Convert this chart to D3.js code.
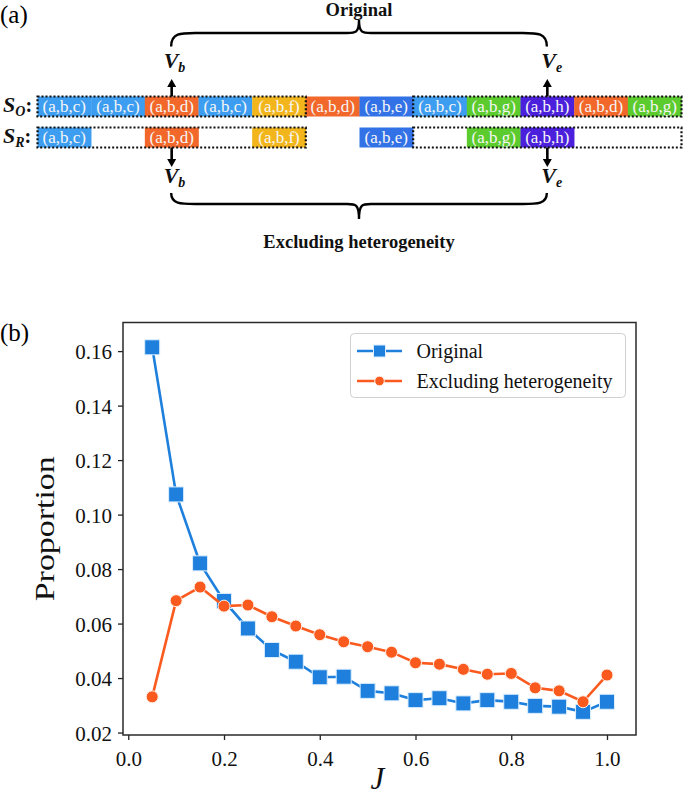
<!DOCTYPE html>
<html><head><meta charset="utf-8">
<script src="https://cdn.jsdelivr.net/npm/d3@7"></script>
<style>body{margin:0;background:#fff;} svg{display:block;} svg text{font-family:'Liberation Serif','Times New Roman',serif !important;}</style>
</head><body>
<script>
// ---------- Panel (a) data ----------
const soCells = ["(a,b,c)","(a,b,c)","(a,b,d)","(a,b,c)","(a,b,f)","(a,b,d)","(a,b,e)","(a,b,c)","(a,b,g)","(a,b,h)","(a,b,d)","(a,b,g)"];
const srKeep = [true,false,true,false,true,false,true,false,true,true,false,false];
const dottedGroups = [[0,4],[7,11]];
const vbIndex = 2, veIndex = 9;
const tripleKeys = ["(a,b,c)","(a,b,d)","(a,b,e)","(a,b,f)","(a,b,g)","(a,b,h)"];
const tripleColors = ["#3d9df0","#f2672a","#3372e6","#f2b61c","#5ccb2e","#4b20dc"];

// ---------- Panel (b) data ----------
const J = [0.05,0.10,0.15,0.20,0.25,0.30,0.35,0.40,0.45,0.50,0.55,0.60,0.65,0.70,0.75,0.80,0.85,0.90,0.95,1.00];
const original = [0.1614,0.1074,0.0821,0.0683,0.0582,0.0503,0.0460,0.0403,0.0405,0.0353,0.0344,0.0319,0.0326,0.0307,0.0319,0.0313,0.0298,0.0295,0.0276,0.0313];
const excluding = [0.0331,0.0684,0.0734,0.0664,0.0668,0.0625,0.0591,0.0559,0.0533,0.0515,0.0495,0.0456,0.0451,0.0432,0.0414,0.0417,0.0364,0.0353,0.0313,0.0411];
const xTicks = [0.0,0.2,0.4,0.6,0.8,1.0];
const yTicks = [0.02,0.04,0.06,0.08,0.10,0.12,0.14,0.16];
const seriesNames = ["Original","Excluding heterogeneity"];
const seriesColors = ["#1e80dc","#fa5a1e"];

const W=685,H=797;
const serif = "'Liberation Serif','Times New Roman',serif";
const svg = d3.select("body").append("svg").attr("width",W).attr("height",H)
  .style("font-family",serif);

// ================= Panel (a) =================
svg.append("text").attr("x",0).attr("y",23).attr("font-size",25).text("(a)");

const colorOf = d3.scaleOrdinal().domain(tripleKeys).range(tripleColors);
const cellX = d3.scaleBand().domain(d3.range(soCells.length)).range([37.5,681.5]);
const bw = cellX.bandwidth();
const rows = [{key:"O", top:96.5, keep: soCells.map(()=>true)}, {key:"R", top:127.5, keep: srKeep}];
const rowH = 20;

const ga = svg.append("g");
rows.forEach(r=>{
  const g = ga.append("g");
  const cells = soCells.map((t,i)=>({t,i})).filter(d=>r.keep[d.i]);
  g.selectAll("rect.cell").data(cells).join("rect")
    .attr("x",d=>cellX(d.i)).attr("y",r.top).attr("width",bw+0.3).attr("height",rowH)
    .attr("fill",d=>colorOf(d.t));
  g.selectAll("text.cell").data(cells).join("text")
    .attr("x",d=>cellX(d.i)+bw/2).attr("y",r.top+rowH/2+5.5)
    .attr("text-anchor","middle").attr("font-size",17).attr("fill","#f6f6f6")
    .text(d=>d.t);
  g.selectAll("rect.dot").data(dottedGroups).join("rect")
    .attr("x",d=>cellX(d[0])).attr("y",r.top)
    .attr("width",d=>cellX(d[1])+bw-cellX(d[0])).attr("height",rowH)
    .attr("fill","none").attr("stroke","#111").attr("stroke-width",2.2)
    .attr("stroke-dasharray","2,2");
  // row label
  const lab = g.append("text").attr("x",3).attr("y",r.top+15)
    .attr("font-weight","bold").attr("fill","#111");
  lab.append("tspan").attr("font-size",22).attr("font-style","italic").text("S");
  lab.append("tspan").attr("font-size",14).attr("font-style","italic").attr("dy",4).text(r.key);
  lab.append("tspan").attr("font-size",20).attr("dy",-4).text(":");
});

// arrows and V labels
const arrowDefs = [
  {i:vbIndex, sub:"b", dir:-1, y0:rows[0].top, tip:79, labY:68, dx:-8},
  {i:veIndex, sub:"e", dir:-1, y0:rows[0].top, tip:79, labY:68, dx:-6},
  {i:vbIndex, sub:"b", dir:1, y0:rows[1].top+rowH, tip:167, labY:183, dx:-8},
  {i:veIndex, sub:"e", dir:1, y0:rows[1].top+rowH, tip:167, labY:183, dx:-6}
];
arrowDefs.forEach(a=>{
  const cx = cellX(a.i)+bw/2;
  const base = a.tip - a.dir*8;
  ga.append("line").attr("x1",cx).attr("x2",cx).attr("y1",a.y0).attr("y2",base)
    .attr("stroke","#000").attr("stroke-width",2.6);
  ga.append("path").attr("d",`M${cx},${a.tip} L${cx-4.5},${base} L${cx+4.5},${base} Z`).attr("fill","#000");
  const t = ga.append("text").attr("x",cx+a.dx).attr("y",a.labY)
    .attr("font-weight","bold").attr("font-style","italic").attr("fill","#111");
  t.append("tspan").attr("font-size",22).text("V");
  t.append("tspan").attr("font-size",14).attr("dy",4).text(a.sub);
});

// braces
function brace(x1,x2,yEnd,yH,yTip){
  const xm=(x1+x2)/2, r=24, r2=12;
  return `M${x1},${yEnd} C${x1},${yH} ${x1+r*0.4},${yH} ${x1+r},${yH} L${xm-r2},${yH} C${xm-r2*0.3},${yH} ${xm},${yH} ${xm},${yTip}` +
         ` C${xm},${yH} ${xm+r2*0.3},${yH} ${xm+r2},${yH} L${x2-r},${yH} C${x2-r*0.4},${yH} ${x2},${yH} ${x2},${yEnd}`;
}
const bx1 = cellX(vbIndex)+bw/2-0.5, bx2 = cellX(veIndex)+bw/2-0.5;
ga.append("path").attr("d",brace(bx1,bx2,46.5,33,20)).attr("fill","none").attr("stroke","#000").attr("stroke-width",2.4);
ga.append("path").attr("d",brace(bx1,bx2,193,204,219)).attr("fill","none").attr("stroke","#000").attr("stroke-width",2.4);
ga.append("text").attr("x",(bx1+bx2)/2).attr("y",16).attr("text-anchor","middle")
  .attr("font-weight","bold").attr("font-size",18.5).attr("fill","#111").text(seriesNames[0]);
ga.append("text").attr("x",(bx1+bx2)/2).attr("y",248).attr("text-anchor","middle")
  .attr("font-weight","bold").attr("font-size",18.5).attr("fill","#111").text(seriesNames[1]);

// ================= Panel (b) =================
svg.append("text").attr("x",0).attr("y",341).attr("font-size",25).text("(b)");

const L=123, R=636, T=322.5, B=735;
const x = d3.scaleLinear().domain([-0.011,1.0606]).range([L,R]);
const y = d3.scaleLinear().domain([0.0191,0.1705]).range([B,T]);

const gx = svg.append("g").attr("transform",`translate(0,${B})`)
  .call(d3.axisBottom(x).tickValues(xTicks).tickFormat(d3.format(".1f")).tickSize(5).tickPadding(6));
const gy = svg.append("g").attr("transform",`translate(${L},0)`)
  .call(d3.axisLeft(y).tickValues(yTicks).tickFormat(d3.format(".2f")).tickSize(5).tickPadding(6));
[gx,gy].forEach(g=>{
  g.attr("font-family",serif);
  g.select(".domain").remove();
  g.selectAll(".tick line").attr("stroke","#222").attr("stroke-width",1.3);
  g.selectAll(".tick text").attr("font-family",serif).attr("font-size",21).attr("fill","#111");
});
gx.selectAll(".tick text").attr("dy","0.95em");
gy.selectAll(".tick text").attr("dy","0.36em");

svg.append("rect").attr("x",L).attr("y",T).attr("width",R-L).attr("height",B-T)
  .attr("fill","none").attr("stroke","#2a2a2a").attr("stroke-width",1.5);

// axis labels
svg.append("text").attr("transform",`translate(54,${(T+B)/2}) rotate(-90)`)
  .attr("text-anchor","middle").attr("font-size",27)
  .attr("textLength",145).attr("lengthAdjust","spacingAndGlyphs").attr("fill","#111").text("Proportion");
svg.append("text").attr("x",(L+R)/2 - 2).attr("y",789).attr("text-anchor","middle")
  .attr("font-size",31).attr("font-style","italic").attr("fill","#111").text("J");

const line = d3.line().x(d=>x(d[0])).y(d=>y(d[1]));
const dataO = J.map((j,i)=>[j,original[i]]);
const dataE = J.map((j,i)=>[j,excluding[i]]);

const gp = svg.append("g");
gp.append("path").datum(dataO).attr("d",line).attr("fill","none").attr("stroke",seriesColors[0]).attr("stroke-width",2.6);
const sq = 15;
gp.selectAll("rect.o").data(dataO).join("rect")
  .attr("x",d=>x(d[0])-sq/2).attr("y",d=>y(d[1])-sq/2).attr("width",sq).attr("height",sq)
  .attr("fill",seriesColors[0]).attr("stroke","#dbeeff").attr("stroke-width",1);
gp.append("path").datum(dataE).attr("d",line).attr("fill","none").attr("stroke",seriesColors[1]).attr("stroke-width",2.6);
gp.selectAll("circle.e").data(dataE).join("circle")
  .attr("cx",d=>x(d[0])).attr("cy",d=>y(d[1])).attr("r",6)
  .attr("fill",seriesColors[1]).attr("stroke","#fff0e8").attr("stroke-width",1);

// legend
const lg = svg.append("g");
lg.append("rect").attr("x",350.5).attr("y",333.5).attr("width",275).attr("height",64).attr("rx",4)
  .attr("fill","#fff").attr("fill-opacity",0.85).attr("stroke","#d0d0d0").attr("stroke-width",1);
const legY = [351,381];
seriesNames.forEach((nm,i)=>{
  lg.append("line").attr("x1",357).attr("x2",402).attr("y1",legY[i]).attr("y2",legY[i])
    .attr("stroke",seriesColors[i]).attr("stroke-width",2.6);
  if(i===0){
    lg.append("rect").attr("x",379.5-6).attr("y",legY[i]-6).attr("width",12).attr("height",12)
      .attr("fill",seriesColors[0]).attr("stroke","#dbeeff").attr("stroke-width",1);
  } else {
    lg.append("circle").attr("cx",379.5).attr("cy",legY[i]).attr("r",4.8)
      .attr("fill",seriesColors[1]).attr("stroke","#fff0e8").attr("stroke-width",1);
  }
  lg.append("text").attr("x",416.5).attr("y",legY[i]+6.5).attr("font-size",20).attr("fill","#111").text(nm);
});
</script>
</body></html>
